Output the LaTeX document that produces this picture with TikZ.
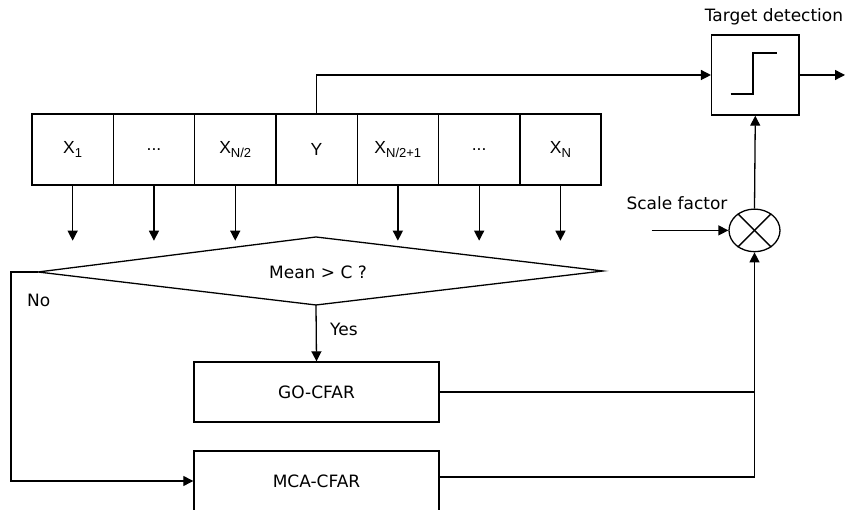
\documentclass[tikz,border=0pt]{standalone}
\usepackage{fontspec}
\setmainfont{DejaVu Sans}
\newfontfamily\cellfont{Liberation Sans}
\usetikzlibrary{arrows.meta,shapes.geometric,calc}

\newcommand{\lbl}{\fontsize{17}{20}\selectfont}
\newcommand{\cx}[1]{{\cellfont\fontsize{17.5}{20}\selectfont X\raisebox{-4pt}{\fontsize{13}{15}\selectfont #1}}}
\newcommand{\cf}{\cellfont\fontsize{17.5}{20}\selectfont}

\tikzset{
  line/.style={line width=1.3pt},
  flow/.style={line, -{Triangle[width=10pt,length=10pt]}},
  cellbox/.style={draw, line width=1.4pt, minimum width=81.3pt, minimum height=71pt, inner sep=0pt},
  procbox/.style={draw, line width=1.4pt, minimum width=245pt, minimum height=60pt, inner sep=0pt, font=\lbl},
  txt/.style={inner sep=0pt, font=\lbl},
}

\begin{document}
\begin{tikzpicture}[x=1pt,y=1pt]
\useasboundingbox (0,0) rectangle (846,510);

% reference window cells
\foreach \i/\t in {1/{\cx{1}},2/{\cf ...},3/{\cx{N/2}},4/{\cf Y},5/{\cx{N/2+1}},6/{\cf ...},7/{\cx{N}}}
  \node[cellbox] (c\i) at ({32+81.3*(\i-0.5)},360.5) {\t};

% arrow stubs under the cells
\foreach \i in {1,2,3,5,6,7}
  \draw[flow] (c\i.south) -- ++(0,-55);

% decision diamond
\coordinate (dl) at (38,238);
\coordinate (dt) at (316,273);
\coordinate (dr) at (603,239);
\coordinate (db) at (316,205);
\draw[line] (dl) -- (dt) -- (dr) -- (db) -- cycle;
\node[txt] (dec) at (318,238) {Mean > C ?};

% CFAR processors
\node[procbox] (go) at (316.5,118) {GO-CFAR};
\node[procbox] (mca) at (316.5,29) {MCA-CFAR};

% target detection block
\node[draw, line width=1.4pt, minimum width=87.3pt, minimum height=80pt, inner sep=0pt] (td) at (755.3,435) {};
\node[txt] (tdl) at (774,493) {Target detection};
\draw[line] ($(td.center)+(-24.6,-19)$) coordinate (s1) -- ++(22.3,0) coordinate (s2) -- ++(0,41) coordinate (s3) -- ++(23.7,0) coordinate (s4);

% multiplier
\node[draw, ellipse, line width=1.3pt, minimum width=51pt, minimum height=42.6pt, inner sep=0pt] (mul) at (754.5,279.6) {};
\draw[line] (mul.45) -- (mul.225);
\draw[line] (mul.135) -- (mul.315);
\node[txt] (sf) at (677,307) {Scale factor};
\coordinate (sfin) at (651.7,279.6);
\draw[flow] (sfin) -- (mul.west);

% connections
\coordinate (yc) at (c4.north |- td.west);
\draw[flow] (c4.north) -- (yc) -- (td.west);
\coordinate (out) at (845,435);
\draw[flow] (td.east) -- (out);
\draw[flow] (mul.north) -- (td.south);

\draw[flow] (db) -- (go.north);
\node[txt, anchor=west] (yes) at (330,181) {Yes};

\coordinate (nl1) at (11,238);
\coordinate (nl2) at (11,29);
\draw[flow] (dl) -- (nl1) -- (nl2) -- (mca.west);
\node[txt, anchor=west] (no) at (27,210) {No};

\coordinate (gr) at (mul.south |- go.east);
\draw[line] (go.east) -- (gr);
\coordinate (mr) at ($(mul.south |- mca.east)+(0,4)$);
\draw[flow] ($(mca.east)+(0,4)$) -- (mr) -- (mul.south);
\end{tikzpicture}
\end{document}
